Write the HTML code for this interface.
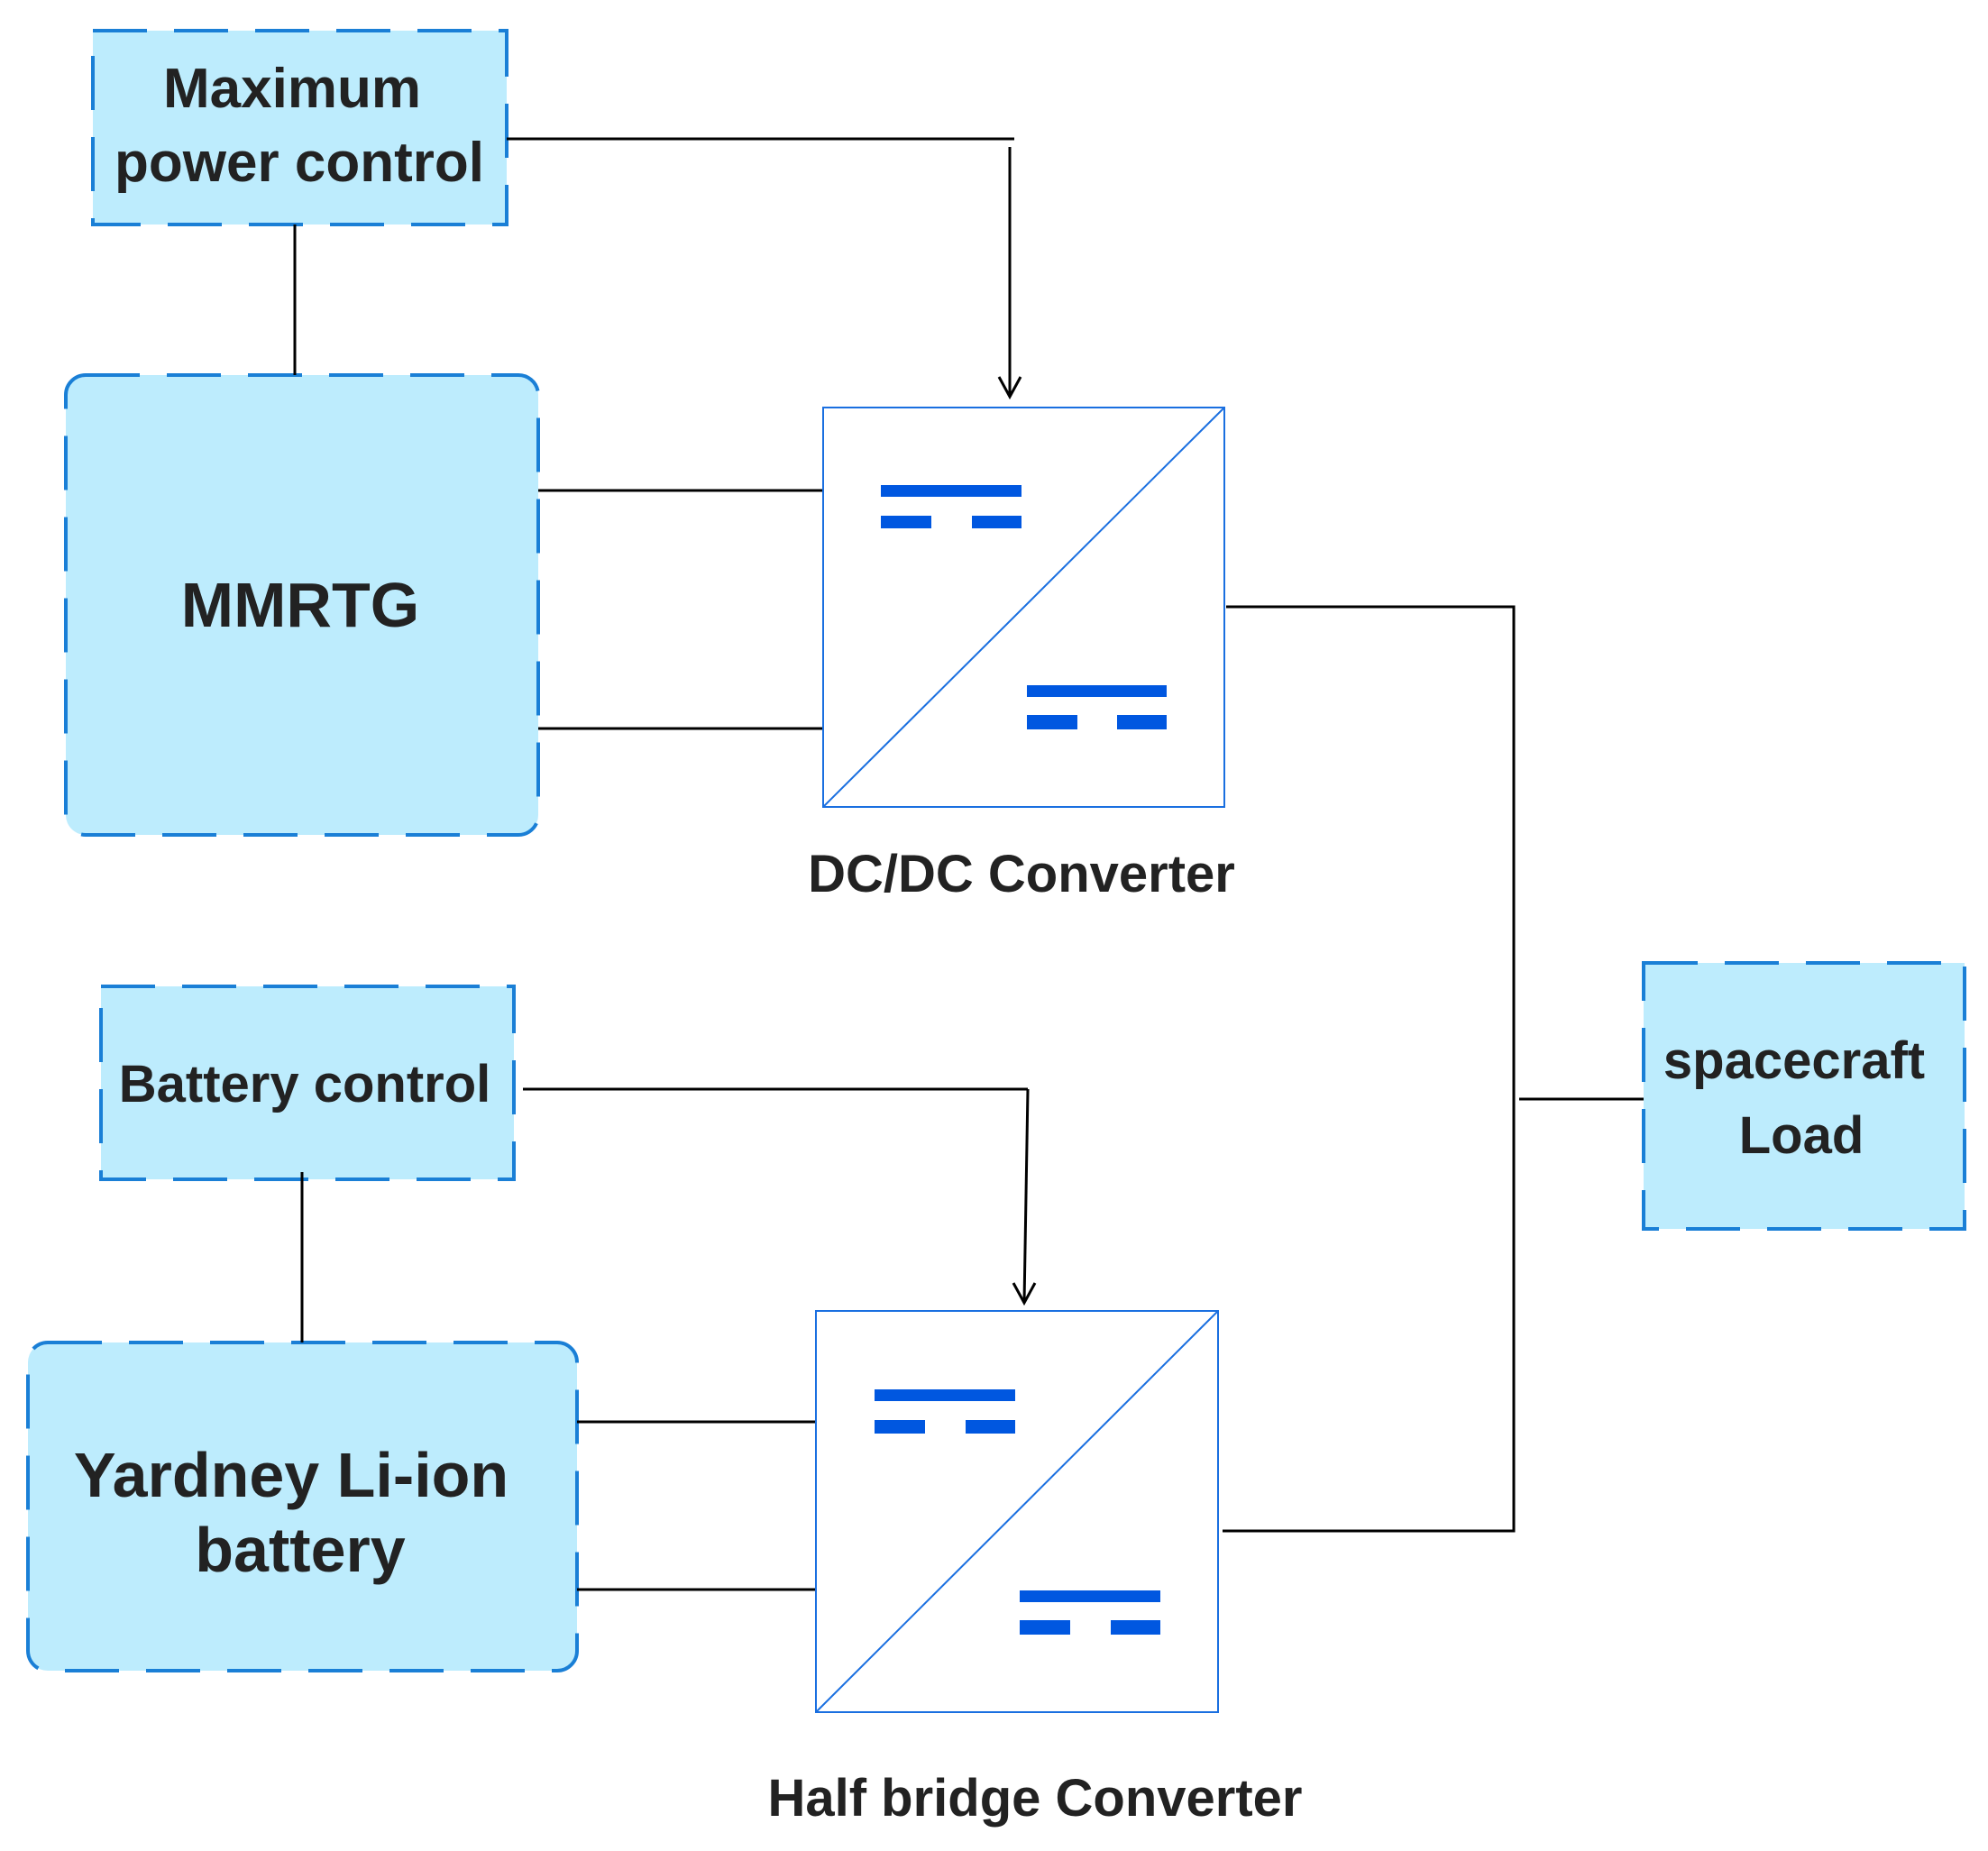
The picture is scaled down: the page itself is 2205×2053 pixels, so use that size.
<!DOCTYPE html>
<html><head><meta charset="utf-8"><style>html,body{margin:0;padding:0;background:#fff}svg{display:block}</style></head>
<body>
<svg width="2205" height="2053" viewBox="0 0 2205 2053" xmlns="http://www.w3.org/2000/svg" font-family="Liberation Sans, sans-serif" font-weight="bold" fill="#222">
<g fill="#bdecfd" stroke="#1a7fd6" stroke-width="4" stroke-dasharray="60,30">
<rect x="103" y="34" width="459" height="215"/>
<rect x="73" y="416" width="524" height="510" rx="22"/>
<rect x="112" y="1094" width="458" height="214"/>
<rect x="31" y="1489" width="609" height="364" rx="22"/>
<rect x="1823" y="1068" width="356" height="295"/>
</g>
<g stroke="#000" stroke-width="3" fill="none">
<line x1="327" y1="249" x2="327" y2="416"/>
<polyline points="562,154 1125,154"/>
<line x1="1120" y1="163" x2="1120" y2="440"/>
<polyline points="1108,418 1120,440 1132,418"/>
<line x1="597" y1="544" x2="918" y2="544"/>
<line x1="597" y1="808" x2="918" y2="808"/>
<polyline points="1360,673 1679,673 1679,1698 1356,1698"/>
<line x1="1685" y1="1219" x2="1823" y2="1219"/>
<polyline points="580,1208 1140,1208"/>
<line x1="1140" y1="1208" x2="1136" y2="1445"/>
<polyline points="1124,1423 1136,1445 1148,1423"/>
<line x1="335" y1="1300" x2="335" y2="1489"/>
<line x1="640" y1="1577" x2="905" y2="1577"/>
<line x1="640" y1="1763" x2="905" y2="1763"/>
</g>
<g stroke="#1a6fe0" stroke-width="2" fill="#fff">
<rect x="913" y="452" width="445" height="443"/>
<line x1="913" y1="895" x2="1358" y2="452"/>
<rect x="905" y="1454" width="446" height="445"/>
<line x1="905" y1="1899" x2="1351" y2="1454"/>
</g>
<g fill="#0057e0">
<rect x="977" y="538" width="156" height="13"/><rect x="977" y="572" width="56" height="14"/><rect x="1078" y="572" width="55" height="14"/>
<rect x="1139" y="760" width="155" height="13"/><rect x="1139" y="793" width="56" height="16"/><rect x="1239" y="793" width="55" height="16"/>
<rect x="970" y="1541" width="156" height="13"/><rect x="970" y="1575" width="56" height="15"/><rect x="1071" y="1575" width="55" height="15"/>
<rect x="1131" y="1764" width="156" height="13"/><rect x="1131" y="1797" width="56" height="16"/><rect x="1232" y="1797" width="55" height="16"/>
</g>
<g text-anchor="middle" font-size="58">
<text x="324" y="119" font-size="62">Maximum</text>
<text x="332" y="201" font-size="62">power control</text>
<text x="338" y="1222">Battery control</text>
<text x="1990" y="1196">spacecraft</text>
<text x="1998" y="1279">Load</text>
<text x="1133" y="989">DC/DC Converter</text>
<text x="1148" y="2014">Half bridge Converter</text>
</g>
<g text-anchor="middle" font-size="70">
<text x="333" y="695">MMRTG</text>
<text x="323" y="1660">Yardney Li-ion</text>
<text x="333" y="1743">battery</text>
</g>
</svg>
</body></html>
